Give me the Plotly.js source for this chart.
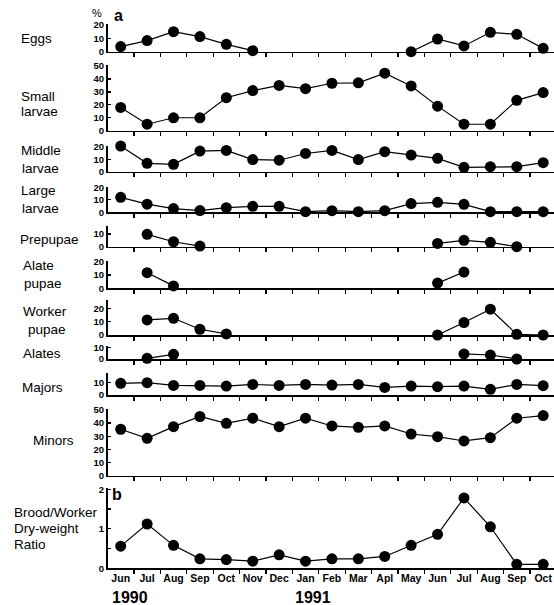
<!DOCTYPE html>
<html>
<head>
<meta charset="utf-8">
<script src="https://cdn.plot.ly/plotly-3.0.1.min.js"></script>
<style>html,body{margin:0;padding:0;background:#fff;}#chart{width:554px;height:605px;}</style>
</head>
<body>
<div id="chart"></div>
<script>
// ---- data ----
const monthIdx = [0,1,2,3,4,5,6,7,8,9,10,11,12,13,14,15,16];
const monthLabels = ['Jun','Jul','Aug','Sep','Oct','Nov','Dec','Jan','Feb','Mar','Apl','May','Jun','Jul','Aug','Sep','Oct'];
const yearLabels = ['1990','1991'];
const eggs         = [3.8, 8.3, 15, 11.3, 5.5, 0.8, null, null, null, null, null, 0, 9.5, 4.3, 14.5, 13, 2.5];
const smallLarvae  = [18, 5, 10, 10, 25.5, 31, 35, 32.5, 36.7, 37, 44.5, 34.6, 19, 5, 5, 23.5, 29.5];
const middleLarvae = [20.5, 6.7, 5.9, 16.5, 17, 9.7, 9.2, 14.6, 17, 9.7, 16, 13.3, 10.7, 3.5, 4, 4, 7.2];
const largeLarvae  = [12, 6.5, 3, 1.4, 3.7, 4.8, 4.8, 0.5, 1.3, 0.5, 1.3, 7, 8, 6.4, 0.5, 0.5, 0.5];
const prepupae     = [null, 9.7, 3.9, 0.5, null, null, null, null, null, null, null, null, 2.6, 5, 3.4, 0, null];
const alatePupae   = [null, 11.7, 1.8, null, null, null, null, null, null, null, null, null, 3.9, 12.2, null, null, null];
const workerPupae  = [null, 11.3, 12.5, 4.3, 0.8, null, null, null, null, null, null, null, 0, 9.3, 19.3, 0.5, 0];
const alates       = [null, 0.6, 4, null, null, null, null, null, null, null, null, null, null, 4.3, 3.4, 0, null];
const majors       = [9.5, 10, 7.8, 7.8, 7.3, 8.6, 7.8, 8.6, 8.1, 8.6, 6.2, 7.3, 6.8, 7.3, 4.6, 8.6, 7.6];
const minors       = [35.3, 28.4, 37.3, 45, 39.8, 43.7, 37.3, 43.7, 37.8, 36.8, 37.8, 31.7, 29.7, 26.4, 28.9, 43.7, 45.7];
const broodRatio   = [0.56, 1.12, 0.58, 0.24, 0.22, 0.18, 0.34, 0.18, 0.24, 0.24, 0.3, 0.58, 0.86, 1.78, 1.05, 0.1, 0.1];
const monthBoundaries = [0.5,1.5,2.5,3.5,4.5,5.5,6.5,7.5,8.5,9.5,10.5,11.5,12.5,13.5,14.5,15.5];

const series = [eggs, smallLarvae, middleLarvae, largeLarvae, prepupae, alatePupae, workerPupae, alates, majors, minors, broodRatio];
const panelNames = [['Eggs'],['Small','larvae'],['Middle','larvae'],['Large','larvae'],['Prepupae'],['Alate','pupae'],['Worker','pupae'],['Alates'],['Majors'],['Minors'],['Brood/Worker','Dry-weight','Ratio']];
const yTickVals = [[0,10,20],[0,10,20,30,40,50],[0,10,20],[0,10,20],[0,10],[0,10,20],[0,10,20],[0,10],[0,10],[0,10,20,30,40,50],[0,0.5,1,1.5,2]];
const yTickText = [['0','10','20'],['0','10','20','30','40','50'],['0','10','20'],['0','10','20'],['0','10'],['0','10','20'],['0','10','20'],['0','10'],['0','10'],['0','10','20','30','40','50'],['0','','1','','2']];

// ---- layout geometry (pixels) ----
const W = 554, H = 605;
const panelPx = [[24.3,51.7],[65.4,130.7],[146.1,171.7],[186.7,212.3],[225.7,246.7],[261,288.3],[300,335],[346,359],[373,395],[409,475.7],[488,568.3]];
const yMax = [20.5, 50.5, 20.5, 20.5, 16.5, 20.5, 26.2, 11.1, 17.9, 50.7, 2.03];
// label positions: [x, y] per line
const labelPos = [[[19,38.5]],[[19,96.5],[19,111]],[[19,150],[20,168]],[[19,190],[20,208]],[[18,239]],[[21,265.5],[22,283.5]],[[21,311],[26,329.5]],[[21,353]],[[20,387]],[[31,440]],[[12,512],[12,528],[12,544]]];

const FONT = 'Liberation Sans, Arial, Helvetica, sans-serif';
const xDomain = [107.5/W, 1];
const xRange = [-0.5, 16.41];

const traces = [];
const layout = {
  width: W, height: H, margin: {l:0, r:0, t:0, b:0},
  paper_bgcolor: '#fff', plot_bgcolor: 'rgba(0,0,0,0)',
  showlegend: false, font: {family: FONT, color: '#000'},
  annotations: []
};

series.forEach((s, i) => {
  const n = i + 1;
  const xa = n === 1 ? 'x' : 'x' + n;
  const ya = n === 1 ? 'y' : 'y' + n;
  traces.push({
    x: monthIdx, y: s, xaxis: xa, yaxis: ya, type: 'scatter', mode: 'lines+markers',
    line: {color: '#000', width: 1.2}, marker: {color: '#000', size: 11},
    connectgaps: false, cliponaxis: false, hoverinfo: 'skip'
  });
  const [top, bot] = panelPx[i];
  const isBottom = i === series.length - 1;
  const xk = n === 1 ? 'xaxis' : 'xaxis' + n;
  const yk = n === 1 ? 'yaxis' : 'yaxis' + n;
  layout[yk] = {
    domain: [1 - bot / H, 1 - top / H], range: [0, yMax[i]], anchor: xa,
    showline: true, linecolor: '#000', linewidth: 1.5, showgrid: false, zeroline: false,
    ticks: 'inside', ticklen: 3, tickwidth: 1.2, tickcolor: '#000',
    tickmode: 'array', tickvals: yTickVals[i], ticktext: yTickText[i],
    tickfont: {family: FONT, size: 9.5, color: '#000', weight: 'bold'}, fixedrange: true
  };
  const xaObj = {
    domain: xDomain, range: xRange, anchor: ya,
    showline: true, linecolor: '#000', linewidth: 1.5, showgrid: false, zeroline: false,
    fixedrange: true
  };
  if (isBottom) {
    Object.assign(xaObj, {
      tickmode: 'array', tickvals: monthIdx, ticktext: monthLabels, ticks: '',
      ticklabeloverflow: 'allow',
      tickfont: {family: FONT, size: 10.5, color: '#000', weight: 'bold'},
      minor: {tickmode: 'array', tickvals: monthBoundaries, ticks: 'outside', ticklen: 4, tickwidth: 1.2, tickcolor: '#000', showgrid: false}
    });
  } else {
    Object.assign(xaObj, {
      tickmode: 'array', tickvals: monthBoundaries, ticks: 'outside', ticklen: 4, tickwidth: 1.2, tickcolor: '#000',
      showticklabels: false
    });
  }
  layout[xk] = xaObj;
  panelNames[i].forEach((t, j) => {
    const [px, py] = labelPos[i][j];
    layout.annotations.push({
      text: t, xref: 'paper', yref: 'paper', x: px / W, y: 1 - py / H,
      xanchor: 'left', yanchor: 'middle', showarrow: false,
      font: {family: FONT, size: 13.5, color: '#000'}
    });
  });
});

// panel letters and units
layout.annotations.push(
  {text: '%', xref: 'paper', yref: 'paper', x: 97 / W, y: 1 - 13 / H, xanchor: 'center', yanchor: 'middle', showarrow: false, font: {family: FONT, size: 11, color: '#000'}},
  {text: 'a', xref: 'paper', yref: 'paper', x: 118 / W, y: 1 - 15 / H, xanchor: 'center', yanchor: 'middle', showarrow: false, font: {family: FONT, size: 16, color: '#000', weight: 'bold'}},
  {text: 'b', xref: 'paper', yref: 'paper', x: 117 / W, y: 1 - 494 / H, xanchor: 'center', yanchor: 'middle', showarrow: false, font: {family: FONT, size: 16, color: '#000', weight: 'bold'}},
  {text: yearLabels[0], xref: 'paper', yref: 'paper', x: 110 / W, y: 1 - 597 / H, xanchor: 'left', yanchor: 'middle', showarrow: false, font: {family: FONT, size: 16, color: '#000', weight: 'bold'}},
  {text: yearLabels[1], xref: 'paper', yref: 'paper', x: 293 / W, y: 1 - 597 / H, xanchor: 'left', yanchor: 'middle', showarrow: false, font: {family: FONT, size: 16, color: '#000', weight: 'bold'}}
);

Plotly.newPlot('chart', traces, layout, {staticPlot: true, displayModeBar: false});
</script>
</body>
</html>
